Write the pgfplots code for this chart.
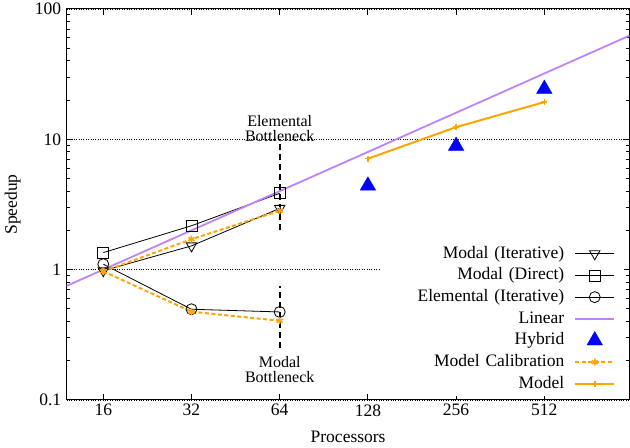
\documentclass[border=0pt]{standalone}
\usepackage{fontspec}
\setmainfont{Liberation Serif}
\usepackage{pgfplots}
\pgfplotsset{compat=1.18}
\definecolor{lin}{RGB}{190,130,250}
\definecolor{org}{RGB}{255,165,0}
\begin{document}
\begin{tikzpicture}
\pgfplotsset{myleg/.style={legend image code/.code={\draw[mark repeat=2,mark phase=2,##1] plot coordinates {(0pt,0pt) (19.5pt,0pt) (39pt,0pt)};}}}
\begin{axis}[
 scale only axis, width=563pt, height=391pt,
 xmode=log, ymode=log, log basis x=2,
 xmin=12, xmax=1000, ymin=0.1, ymax=100,
 xtick={16,32,64,128,256,512}, xticklabels={16,32,64,128,256,512},
 ytick={0.1,1,10,100}, yticklabels={0.1,1,10,100},
 minor ytick={0.2,0.3,0.4,0.5,0.6,0.7,0.8,0.9,2,3,4,5,6,7,8,9,20,30,40,50,60,70,80,90},
 tick align=inside, major tick length=6pt, minor tick length=3.5pt,
 ymajorgrids, major grid style={black, dotted, line width=0.6pt},
 axis line style={line width=1pt},
 every tick/.style={black, line width=1pt},
 every minor tick/.style={black, line width=1pt},
 /pgf/number format/assume math mode=true,
 tick label style={font=\fontsize{17.5}{18}\selectfont},
 xticklabel style={yshift=-1pt},
 yticklabel style={xshift=-2pt},
 xlabel={Processors}, ylabel={Speedup},
 every axis x label/.style={at={(axis description cs:0.5,0)}, yshift=-37pt, anchor=center, font=\fontsize{17.5}{18}\selectfont},
 every axis y label/.style={at={(axis description cs:0,0.5)}, xshift=-54pt, rotate=90, anchor=center, font=\fontsize{17.5}{18}\selectfont},
 legend plot pos=right,
 legend cell align=right,
 legend style={at={(rel axis cs:0.991,0.01)}, anchor=south east, draw=none, fill=white,
   font=\fontsize{17.5}{18}\selectfont, row sep=0pt, inner xsep=9pt, inner ysep=1pt,
   nodes={inner ysep=1.6pt, inner xsep=0pt, text height=13.5pt, text depth=5pt},
   /tikz/every odd column/.append style={column sep=10pt, text width=174pt, align=right}},
 myleg,
]
\addplot[black, line width=0.8pt, mark=triangle, mark size=6pt, mark options={rotate=180, solid}, myleg]
 coordinates {(16,0.98) (32,1.52) (64,2.95)};
\addlegendentry{Modal (Iterative)}
\addplot[black, line width=0.8pt, mark=square, mark size=5.5pt, mark options={solid}, myleg]
 coordinates {(16,1.35) (32,2.17) (64,3.85)};
\addlegendentry{Modal (Direct)}
\addplot[black, line width=0.8pt, mark=o, mark size=5.5pt, mark options={solid}, myleg]
 coordinates {(16,1.10) (32,0.496) (64,0.473)};
\addlegendentry{Elemental (Iterative)}
\addplot[lin, line width=1.8pt, no marks, myleg]
 coordinates {(12,0.75) (1000,62.5)};
\addlegendentry{Linear}
\addplot[blue, only marks, mark=triangle*, mark size=9pt, myleg]
 coordinates {(128,4.40) (256,8.89) (512,24.3)};
\addlegendentry{Hybrid}
\addplot[org, line width=2pt, dash pattern=on 4pt off 2.5pt, mark=asterisk, mark size=3.5pt, mark options={solid, line width=1.5pt}, myleg]
 coordinates {(16,0.97) (32,1.71) (64,2.83)};
\addlegendentry{Model Calibration}
\addplot[org, line width=2pt, mark=+, mark size=3pt, mark options={solid, line width=1.5pt}, myleg]
 coordinates {(128,7.10) (256,12.4) (512,19.3)};
\addlegendentry{Model}
\addplot[org, line width=2pt, dash pattern=on 4pt off 2.5pt, mark=asterisk, mark size=3.5pt, mark options={solid, line width=1.5pt}, forget plot]
 coordinates {(16,0.97) (32,0.475) (64,0.405)};
\addplot[black, line width=2pt, dash pattern=on 6pt off 4pt, no marks, forget plot]
 coordinates {(64,2.0) (64,10)};
\addplot[black, line width=2pt, dash pattern=on 6pt off 4pt, no marks, forget plot]
 coordinates {(64,0.25) (64,0.75)};
\node[font=\fontsize{16}{15}\selectfont, align=center] at (axis cs:64,12.2) {Elemental\\Bottleneck};
\node[font=\fontsize{16}{15}\selectfont, align=center] at (axis cs:64,0.17) {Modal\\Bottleneck};
\end{axis}
\pgfresetboundingbox
\path[use as bounding box] ([xshift=-66.7pt,yshift=-48pt]current axis.south west) rectangle ([xshift=0.5pt,yshift=9pt]current axis.north east);
\end{tikzpicture}
\end{document}
